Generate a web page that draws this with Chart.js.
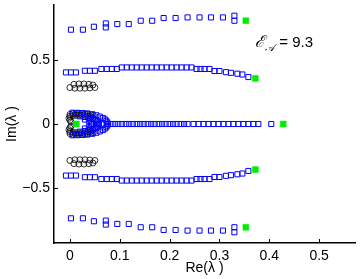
<!DOCTYPE html>
<html>
<head>
<meta charset="utf-8">
<script src="https://cdn.jsdelivr.net/npm/chart.js@4/dist/chart.umd.min.js"></script>
<style>
  html, body { margin: 0; padding: 0; background: #fff; }
  #c { display: block; }
</style>
</head>
<body>
<canvas id="c" width="360" height="279"></canvas>
<script>
// upper half only; lower half is the complex conjugate
const topRowRe = [0.002, 0.026, 0.048, 0.072, 0.072, 0.095, 0.118, 0.142, 0.165, 0.188, 0.212, 0.236, 0.26, 0.283, 0.307, 0.33, 0.33];
const topRowIm = [0.737, 0.737, 0.76, 0.786, 0.755, 0.781, 0.781, 0.807, 0.807, 0.828, 0.828, 0.833, 0.833, 0.833, 0.833, 0.846, 0.807];

const midRowRe = [-0.008, 0.002, 0.012, 0.03, 0.04, 0.05, 0.063, 0.074, 0.084, 0.094,
  0.104, 0.114, 0.124, 0.134, 0.144, 0.154, 0.164, 0.174, 0.184, 0.194, 0.204, 0.214, 0.224, 0.234, 0.244,
  0.254, 0.262, 0.27, 0.28, 0.29, 0.30, 0.313, 0.323, 0.336, 0.346, 0.358];
const midRowIm = [0.403, 0.403, 0.403, 0.416, 0.416, 0.416, 0.43, 0.43, 0.43, 0.43,
  0.442, 0.442, 0.442, 0.442, 0.442, 0.442, 0.442, 0.442, 0.442, 0.442, 0.442, 0.442, 0.442, 0.442, 0.442,
  0.43, 0.43, 0.43, 0.43, 0.414, 0.414, 0.405, 0.40, 0.393, 0.387, 0.367];

const realAxisRe = [0.083, 0.09, 0.097, 0.104, 0.112, 0.119, 0.126, 0.134, 0.141, 0.148, 0.156,
  0.163, 0.17, 0.178, 0.185, 0.192, 0.2, 0.207, 0.214, 0.222, 0.229, 0.236,
  0.248, 0.258, 0.268, 0.278, 0.288, 0.298, 0.308, 0.318, 0.328, 0.338, 0.348, 0.358, 0.368, 0.378, 0.404];

const clusterSqRe = [0.005, 0.015, 0.025, 0.035, 0.045, 0.053, 0.06, 0.066, 0.07, 0.073, 0.075, 0.076,
  0.02, 0.03, 0.04, 0.047, 0.052, 0.055, 0.057, 0.058,
  0.03, 0.038, 0.042, 0.044];
const clusterSqIm = [0.088, 0.087, 0.085, 0.082, 0.076, 0.068, 0.058, 0.047, 0.036, 0.025, 0.012, 0,
  0.06, 0.055, 0.048, 0.04, 0.03, 0.02, 0.01, 0,
  0.035, 0.025, 0.012, 0];

const circleRe = [0.0, 0.006, 0.012, 0.018, 0.024, 0.03, 0.036, 0.042, 0.047,
  0.0, 0.006, 0.012, 0.018, 0.024, 0.03, 0.036, 0.042, 0.046,
  -0.002, 0.0, 0.002,
  0.008, 0.018, 0.028, 0.038, 0.046,
  0.0, 0.01, 0.02, 0.03, 0.04, 0.05];
const circleIm = [0.075, 0.08, 0.082, 0.083, 0.082, 0.08, 0.077, 0.072, 0.066,
  0.06, 0.065, 0.068, 0.069, 0.068, 0.066, 0.062, 0.056, 0.048,
  0.045, 0.03, 0.018,
  0.31, 0.313, 0.313, 0.31, 0.305,
  0.285, 0.28, 0.28, 0.28, 0.282, 0.285];

const greenRe = [0.353, 0.372, 0.428, 0.013];
const greenIm = [0.807, 0.356, 0, 0];

const xTicks = [0, 0.1, 0.2, 0.3, 0.4, 0.5];
const yTicks = [-0.5, 0, 0.5];

function withConjugates(re, im) {
  const pts = [];
  re.forEach((r, i) => {
    pts.push({ x: r, y: im[i] });
    if (im[i] !== 0) pts.push({ x: r, y: -im[i] });
  });
  return pts;
}

const squares = [
  ...withConjugates(topRowRe, topRowIm),
  ...withConjugates(midRowRe, midRowIm),
  ...withConjugates(realAxisRe, realAxisRe.map(() => 0)),
  ...withConjugates(clusterSqRe, clusterSqIm)
];
const circles = withConjugates(circleRe, circleIm);
const greens = withConjugates(greenRe, greenIm);

const FONT = "'Liberation Sans', Arial, sans-serif";

const extras = {
  id: 'extras',
  afterDraw(chart) {
    const ctx = chart.ctx;
    const xs = chart.scales.x, ys = chart.scales.y;
    const a = chart.chartArea;
    ctx.save();
    ctx.strokeStyle = '#000';
    ctx.lineWidth = 1;
    ctx.beginPath();
    xTicks.forEach(v => {
      const px = Math.round(xs.getPixelForValue(v)) + 0.5;
      ctx.moveTo(px, a.bottom);
      ctx.lineTo(px, a.bottom - 4);
    });
    yTicks.forEach(v => {
      const py = Math.round(ys.getPixelForValue(v)) + 0.5;
      ctx.moveTo(a.left, py);
      ctx.lineTo(a.left + 4, py);
    });
    ctx.stroke();

    // annotation  E_A = 9.3
    const x0 = xs.getPixelForValue(0.372);
    const y0 = ys.getPixelForValue(0.6);
    ctx.fillStyle = '#000';
    ctx.textBaseline = 'alphabetic';
    ctx.textAlign = 'left';
    ctx.font = "italic 16px 'DejaVu Serif', serif";
    ctx.fillText('ℰ', x0, y0);
    ctx.font = "italic 10px 'DejaVu Serif', serif";
    ctx.fillText('𝒜', x0 + 10, y0 + 4);
    ctx.font = '15px ' + FONT;
    ctx.fillText('= 9.3', x0 + 24, y0);
    ctx.restore();
  }
};

new Chart(document.getElementById('c'), {
  type: 'scatter',
  data: {
    datasets: [
      {
        data: greens,
        pointStyle: 'rect',
        pointRadius: 4.2,
        backgroundColor: '#00ee00',
        borderColor: '#00ee00',
        borderWidth: 0.5
      },
      {
        data: squares,
        pointStyle: 'rect',
        pointRadius: 3.6,
        backgroundColor: 'rgba(0,0,0,0)',
        borderColor: '#0000ff',
        borderWidth: 1
      },
      {
        data: circles,
        pointStyle: 'circle',
        pointRadius: 3,
        backgroundColor: 'rgba(0,0,0,0)',
        borderColor: '#000000',
        borderWidth: 0.8
      }
    ]
  },
  options: {
    responsive: false,
    animation: false,
    devicePixelRatio: 1,
    layout: { padding: { top: 5, right: 4, left: 0, bottom: 0 } },
    plugins: { legend: { display: false }, tooltip: { enabled: false } },
    scales: {
      x: {
        type: 'linear',
        min: -0.032,
        max: 0.572,
        afterBuildTicks: s => { s.ticks = xTicks.map(v => ({ value: v })); },
        afterFit: s => { s.height = 36; s.paddingLeft = 0; s.paddingRight = 0; },
        grid: { display: false, drawTicks: false },
        border: { display: true, color: '#000', width: 1.5 },
        ticks: {
          color: '#000',
          padding: 5,
          maxRotation: 0,
          font: { family: FONT, size: 14 },
          callback: v => String(v).replace('-', '\u2212')
        },
        title: {
          display: true,
          text: 'Re(λ )',
          color: '#000',
          font: { family: FONT, size: 14 },
          padding: { top: 0, bottom: 2 }
        }
      },
      y: {
        type: 'linear',
        min: -0.93,
        max: 0.93,
        afterBuildTicks: s => { s.ticks = yTicks.map(v => ({ value: v })); },
        afterFit: s => { s.width = 54; s.paddingTop = 0; s.paddingBottom = 0; },
        grid: { display: false, drawTicks: false },
        border: { display: true, color: '#000', width: 1.5 },
        ticks: {
          color: '#000',
          padding: 4,
          font: { family: FONT, size: 14 },
          callback: v => String(v).replace('-', '\u2212')
        },
        title: {
          display: true,
          text: 'Im(λ )',
          color: '#000',
          font: { family: FONT, size: 14 },
          padding: { top: 4, bottom: 0 }
        }
      }
    }
  },
  plugins: [extras]
});
</script>
</body>
</html>
